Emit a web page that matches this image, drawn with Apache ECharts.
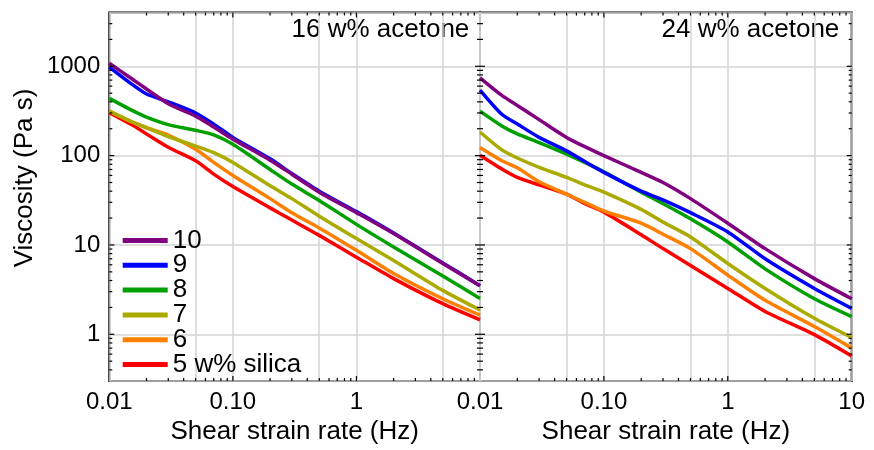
<!DOCTYPE html>
<html><head><meta charset="utf-8">
<script src="https://cdn.jsdelivr.net/npm/echarts@6/dist/echarts.min.js"></script>
<style>html,body{margin:0;padding:0;background:#fff}#c{width:874px;height:450px}</style>
</head><body><div id="c"></div>
<script>
// shear strain rate (Hz)
const rates = [0.01, 0.015, 0.02, 0.03, 0.05, 0.07, 0.1, 0.2, 0.3, 0.5, 1, 2, 5, 10];
const seriesNames = ['10', '9', '8', '7', '6', '5 w% silica'];
const seriesColors = ['#800080', '#0000ff', '#00a000', '#aaaa00', '#ff8000', '#ff0000'];
const panelTitles = ['16 w% acetone', '24 w% acetone'];

// 16 w% acetone, viscosity (Pa s)
const a16_s10 = [1080, 735, 557, 381, 277, 209, 153, 89, 62, 39, 23, 13.4, 6.2, 3.5];
const a16_s9  = [980, 640, 490, 400, 300, 225, 160, 92, 63, 40, 23.6, 13.6, 6.3, 3.5];
const a16_s8  = [437, 325, 270, 222, 192, 171, 134, 70, 48, 31.5, 17, 9.5, 4.5, 2.52];
const a16_s7  = [315, 242, 206, 163, 128, 108, 84, 46, 33, 21, 11.8, 6.7, 3.1, 1.87];
const a16_s6  = [315, 240, 205, 170, 118, 84, 60, 33, 23, 15.5, 8.7, 4.8, 2.5, 1.64];
const a16_s5  = [303, 224, 175, 124, 87.5, 62, 45, 26, 19, 12.8, 7.3, 4.2, 2.2, 1.45];

// 24 w% acetone, viscosity (Pa s)
const a24_s10 = [743, 472, 364, 253, 160, 126, 100, 65, 50, 33, 17.5, 9.1, 4.2, 2.5];
const a24_s9  = [541, 290, 226, 160, 113, 86, 65, 40, 32, 23, 14, 7, 3.26, 1.95];
const a24_s8  = [315, 215, 175, 140, 104, 84, 66, 39, 29, 19.6, 10.8, 5.4, 2.5, 1.58];
const a24_s7  = [184, 116, 94, 74, 57, 47, 39, 25, 18, 12.3, 6.2, 3.26, 1.51, 0.92];
const a24_s6  = [123, 87.5, 73, 51, 37, 30, 24, 17.5, 13.2, 9.1, 4.6, 2.4, 1.22, 0.70];
const a24_s5  = [101, 70.7, 57, 47, 37, 29, 23.3, 13, 9.1, 5.9, 3.26, 1.8, 0.99, 0.57];

// axis ranges and tick values
const xMin = 0.01, xMax = 10, yMin = 0.3, yMax = 4000;
const xMajorTicks = [0.1, 1];
const xMinorTicks = [0.02,0.03,0.04,0.05,0.06,0.07,0.08,0.09,0.2,0.3,0.4,0.5,0.6,0.7,0.8,0.9,2,3,4,5,6,7,8,9];
const yMajorTicks = [1, 10, 100, 1000];
const yMinorTicks = [0.4,0.5,0.6,0.7,0.8,0.9,2,3,4,5,6,7,8,9,20,30,40,50,60,70,80,90,200,300,400,500,600,700,800,900,2000,3000];
const xExtraGrid = [0.05, 0.5, 5];

const panels = [
  [a16_s10, a16_s9, a16_s8, a16_s7, a16_s6, a16_s5],
  [a24_s10, a24_s9, a24_s8, a24_s7, a24_s6, a24_s5]
];

const FONT = 'Liberation Sans, Arial, sans-serif';
const chart = echarts.init(document.getElementById('c'), null, {renderer: 'canvas'});

function xLabel(showTen) {
  return function (v) {
    const e = Math.round(Math.log10(v));
    if (Math.abs(Math.log10(v) - e) > 1e-6) return '';
    if (e === -2) return '0.01';
    if (e === -1) return '0.10';
    if (e === 0) return '1';
    if (e === 1) return showTen ? '10' : '';
    return '';
  };
}
function yLabel(v) {
  const e = Math.round(Math.log10(v));
  if (Math.abs(Math.log10(v) - e) > 1e-6) return '';
  return String(Math.round(Math.pow(10, e)));
}

const grids = [
  {left: 109.3, right: 874 - 480, top: 12.5, bottom: 450 - 381.7, show: true, borderColor: '#000', borderWidth: 2, backgroundColor: 'transparent'},
  {left: 480, right: 874 - 851.7, top: 12.5, bottom: 450 - 381.7, show: true, borderColor: '#000', borderWidth: 2, backgroundColor: 'transparent'}
];

const xAxes = [0, 1].map(i => ({
  type: 'log', gridIndex: i, min: xMin, max: xMax, logBase: 10,
  name: 'Shear strain rate (Hz)', nameLocation: 'middle', nameGap: 38,
  nameTextStyle: {fontSize: 26, color: '#000', fontFamily: FONT},
  axisLine: {show: false}, axisTick: {show: false},
  axisLabel: {formatter: xLabel(i === 1), fontSize: 24, color: '#000', fontFamily: FONT, margin: 9, showMinLabel: true, showMaxLabel: true},
  splitLine: {show: true, lineStyle: {color: '#d4d4d4', width: 1.5}}
}));
const yAxes = [0, 1].map(i => ({
  type: 'log', gridIndex: i, min: yMin, max: yMax, logBase: 10,
  axisLine: {show: false}, axisTick: {show: false},
  axisLabel: {show: i === 0, formatter: yLabel, fontSize: 24, color: '#000', fontFamily: FONT, margin: 9},
  splitLine: {show: true, lineStyle: {color: '#d4d4d4', width: 1.5}}
}));

function tickData() {
  const d = [];
  yMajorTicks.forEach(v => d.push([xMin, v, 0, 5]));
  yMinorTicks.forEach(v => d.push([xMin, v, 0, 3]));
  xMajorTicks.forEach(v => d.push([v, yMin, 1, 5]));
  xMinorTicks.forEach(v => d.push([v, yMin, 1, 3]));
  return d;
}
function renderTick(params, api) {
  const kind = api.value(2), len = api.value(3);
  const st = {stroke: '#000', lineWidth: 1.2};
  if (kind === 0) {
    const v = api.value(1);
    const a = api.coord([xMin, v]), b = api.coord([xMax, v]);
    return {type: 'group', children: [
      {type: 'line', shape: {x1: a[0], y1: a[1], x2: a[0] + len, y2: a[1]}, style: st},
      {type: 'line', shape: {x1: b[0] - len, y1: b[1], x2: b[0], y2: b[1]}, style: st}
    ]};
  } else {
    const v = api.value(0);
    const a = api.coord([v, yMax]), b = api.coord([v, yMin]);
    return {type: 'group', children: [
      {type: 'line', shape: {x1: a[0], y1: a[1], x2: a[0], y2: a[1] + len}, style: st},
      {type: 'line', shape: {x1: b[0], y1: b[1] - len, x2: b[0], y2: b[1]}, style: st}
    ]};
  }
}

const series = [];
[0, 1].forEach(p => {
  // extra vertical grid lines
  series.push({
    type: 'line', xAxisIndex: p, yAxisIndex: p, data: [], z: 1, silent: true,
    markLine: {silent: true, symbol: ['none', 'none'], z: 1, label: {show: false},
      lineStyle: {color: '#d4d4d4', width: 1.5, type: 'solid'},
      data: xExtraGrid.map(v => ({xAxis: v}))}
  });
  // data series: drawn 5 -> 10 so that 10 is on top
  for (let k = seriesNames.length - 1; k >= 0; k--) {
    const arr = panels[p][k];
    series.push({
      type: 'line', name: seriesNames[k], xAxisIndex: p, yAxisIndex: p,
      data: rates.map((r, i) => [r, arr[i]]),
      showSymbol: false, symbol: 'none', smooth: 0.25, z: 3,
      color: seriesColors[k],
      lineStyle: {width: 3.5, color: seriesColors[k]}
    });
  }
  series.push({
    type: 'custom', xAxisIndex: p, yAxisIndex: p, data: tickData(), renderItem: renderTick,
    clip: false, silent: true, z: 10
  });
});

chart.setOption({
  animation: false,
  backgroundColor: '#fff',
  textStyle: {fontFamily: FONT},
  grid: grids,
  xAxis: xAxes,
  yAxis: yAxes,
  legend: {
    data: seriesNames, orient: 'vertical', left: 122.7, top: 227.5, padding: 0,
    icon: 'rect', itemWidth: 45, itemHeight: 5, itemGap: -1.2,
    selectedMode: false,
    textStyle: {fontSize: 26, lineHeight: 24.4, color: '#000', fontFamily: FONT}
  },
  graphic: [
    {type: 'text', x: 25, y: 178, rotation: Math.PI / 2,
      style: {text: 'Viscosity (Pa s)', font: '26px ' + FONT, fill: '#000', align: 'center', verticalAlign: 'middle'}},
    {type: 'text', x: 469.3, y: 30,
      style: {text: panelTitles[0], font: '26px ' + FONT, fill: '#000', align: 'right', verticalAlign: 'middle'}},
    {type: 'text', x: 839.3, y: 30,
      style: {text: panelTitles[1], font: '26px ' + FONT, fill: '#000', align: 'right', verticalAlign: 'middle'}}
  ],
  series: series
});
</script></body></html>
